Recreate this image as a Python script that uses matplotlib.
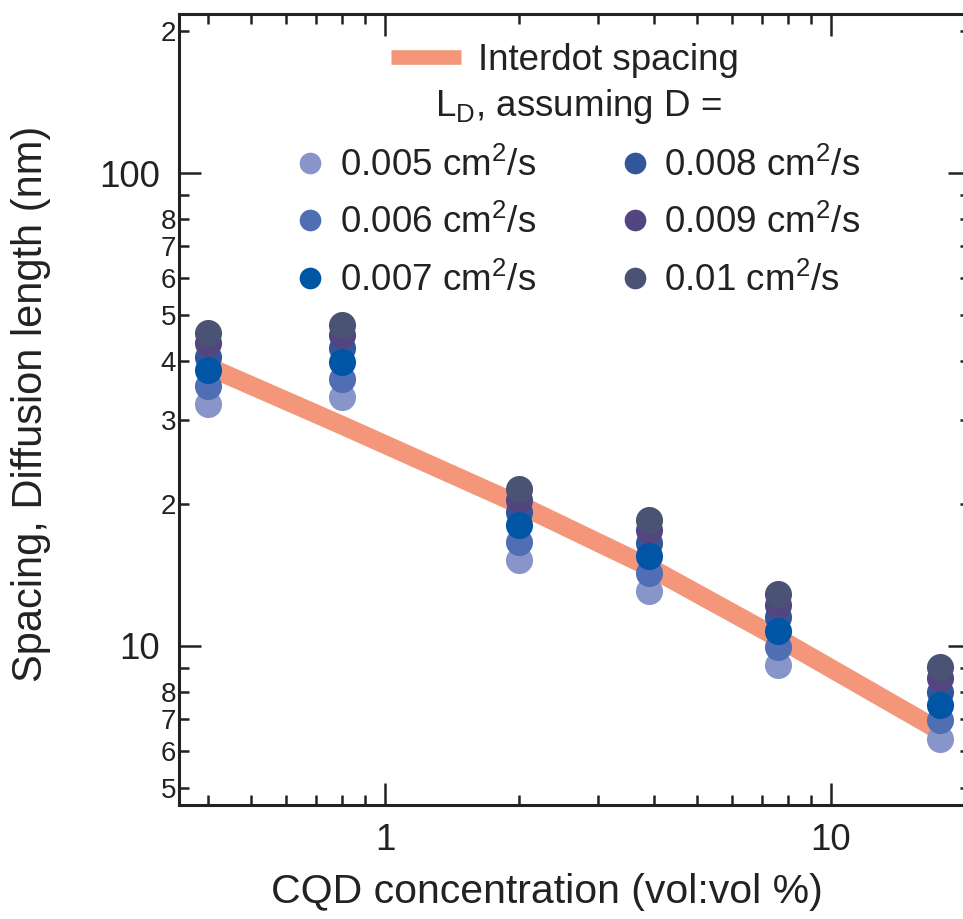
import matplotlib
matplotlib.use("Agg")
import matplotlib.pyplot as plt
from matplotlib.ticker import FixedLocator, FixedFormatter, NullFormatter
from matplotlib.lines import Line2D

plt.rcParams['font.family'] = ['Liberation Sans', 'DejaVu Sans']
plt.rcParams['mathtext.default'] = 'regular'

# CQD concentration (vol:vol %)
conc = [0.4, 0.8, 2.0, 3.9, 7.6, 17.6]
# interdot spacing (nm)
spacing = [39.0, 29.3, 19.9, 14.7, 10.4, 6.6]

# diffusion length (nm) for each assumed D
d_labels = ['0.005', '0.006', '0.007', '0.008', '0.009', '0.01']
ld_005 = [32.5, 33.6, 15.2, 13.1, 9.1, 6.36]
ld_006 = [35.4, 36.7, 16.6, 14.3, 9.95, 6.97]
ld_007 = [38.3, 39.8, 18.0, 15.5, 10.75, 7.5]
ld_008 = [40.8, 42.7, 19.2, 16.55, 11.5, 8.0]
ld_009 = [43.7, 45.5, 20.4, 17.55, 12.2, 8.55]
ld_010 = [45.9, 47.7, 21.5, 18.5, 12.85, 9.03]
ld_all = [ld_005, ld_006, ld_007, ld_008, ld_009, ld_010]
colors = ['#8795C8', '#4F6EB3', '#0055A5', '#33569A', '#534680', '#4A5373']
zorders = [3, 4, 8, 5, 6, 7]

# axis ticks
x_major = [1, 10]
x_major_labels = ['1', '10']
x_minor = [0.4, 0.5, 0.6, 0.7, 0.8, 0.9, 2, 3, 4, 5, 6, 7, 8, 9]
y_major = [10, 100]
y_major_labels = ['10', '100']
y_minor = [5, 6, 7, 8, 9, 20, 30, 40, 50, 60, 70, 80, 90, 200]
y_minor_labels = ['5', '6', '7', '8', '', '2', '3', '4', '5', '6', '7', '8', '', '2']

fig = plt.figure(figsize=(9.63, 9.19), dpi=100)
ax = fig.add_axes([179 / 963, 1 - 805 / 919, (970 - 179) / 963, (805 - 14) / 919])
ax.set_xscale('log')
ax.set_yscale('log')
ax.set_xlim(0.345, 20.5)
ax.set_ylim(4.61, 217)

line, = ax.plot(conc, spacing, color='#F4967A', lw=13.5, solid_capstyle='butt', zorder=2)

dots = []
for lab, vals, c, z in zip(d_labels, ld_all, colors, zorders):
    h, = ax.plot(conc, vals, 'o', color=c, ms=19.5, mew=0, zorder=z,
                 label=lab + ' cm$^2$/s')
    dots.append(h)

ax.xaxis.set_major_locator(FixedLocator(x_major))
ax.xaxis.set_major_formatter(FixedFormatter(x_major_labels))
ax.xaxis.set_minor_locator(FixedLocator(x_minor))
ax.xaxis.set_minor_formatter(NullFormatter())
ax.yaxis.set_major_locator(FixedLocator(y_major))
ax.yaxis.set_major_formatter(FixedFormatter(y_major_labels))
ax.yaxis.set_minor_locator(FixedLocator(y_minor))
ax.yaxis.set_minor_formatter(FixedFormatter(y_minor_labels))

ink = '#222222'
for s in ax.spines.values():
    s.set_linewidth(2.2)
    s.set_color(ink)
ax.tick_params(which='both', direction='in', top=True, right=True,
               width=1.8, color=ink, labelcolor=ink)
ax.tick_params(which='major', length=16)
ax.tick_params(which='minor', length=7.5)
ax.tick_params(axis='y', which='major', labelsize=26.5, pad=13.5)
ax.tick_params(axis='y', which='minor', labelsize=20, pad=2)
ax.tick_params(axis='x', which='major', labelsize=26.5, pad=13)

# axis labels, placed where the reference has them
ax.set_xlabel('CQD concentration (vol:vol %)', fontsize=29.5, color=ink)
ax.set_ylabel('Spacing, Diffusion length (nm)', fontsize=30, color=ink)
ax.xaxis.label.set_va('center')
ax.xaxis.set_label_coords((547 - 179) / 791, -(892 - 805) / 791)
ax.yaxis.label.set_va('center')
ax.yaxis.set_label_coords(-(179 - 31) / 791, (805 - 404) / 791)

# legends
proxy = Line2D([0], [0], color='#F4967A', lw=10.5, solid_capstyle='butt')
leg1 = ax.legend([proxy], ['Interdot spacing'], loc='center', frameon=False,
                 bbox_to_anchor=(565 / 963, 1 - 60 / 919), bbox_transform=fig.transFigure,
                 fontsize=26.5, handlelength=1.9, handletextpad=0.45,
                 borderpad=0, borderaxespad=0)
for t in leg1.get_texts():
    t.set_color(ink)
ax.add_artist(leg1)

leg2 = ax.legend(handles=dots, loc='upper center', ncol=2, frameon=False,
                 title='$L_D$, assuming D =', title_fontsize=26.5,
                 bbox_to_anchor=(578 / 963, 1 - 87 / 919), bbox_transform=fig.transFigure,
                 fontsize=26.5, markerscale=0.8, handlelength=0.8, handletextpad=0.4,
                 columnspacing=2.3, labelspacing=0.58, borderpad=0, borderaxespad=0)
for t in leg2.get_texts():
    t.set_color(ink)
leg2.get_title().set_color(ink)

fig.savefig('out.png', dpi=100)
